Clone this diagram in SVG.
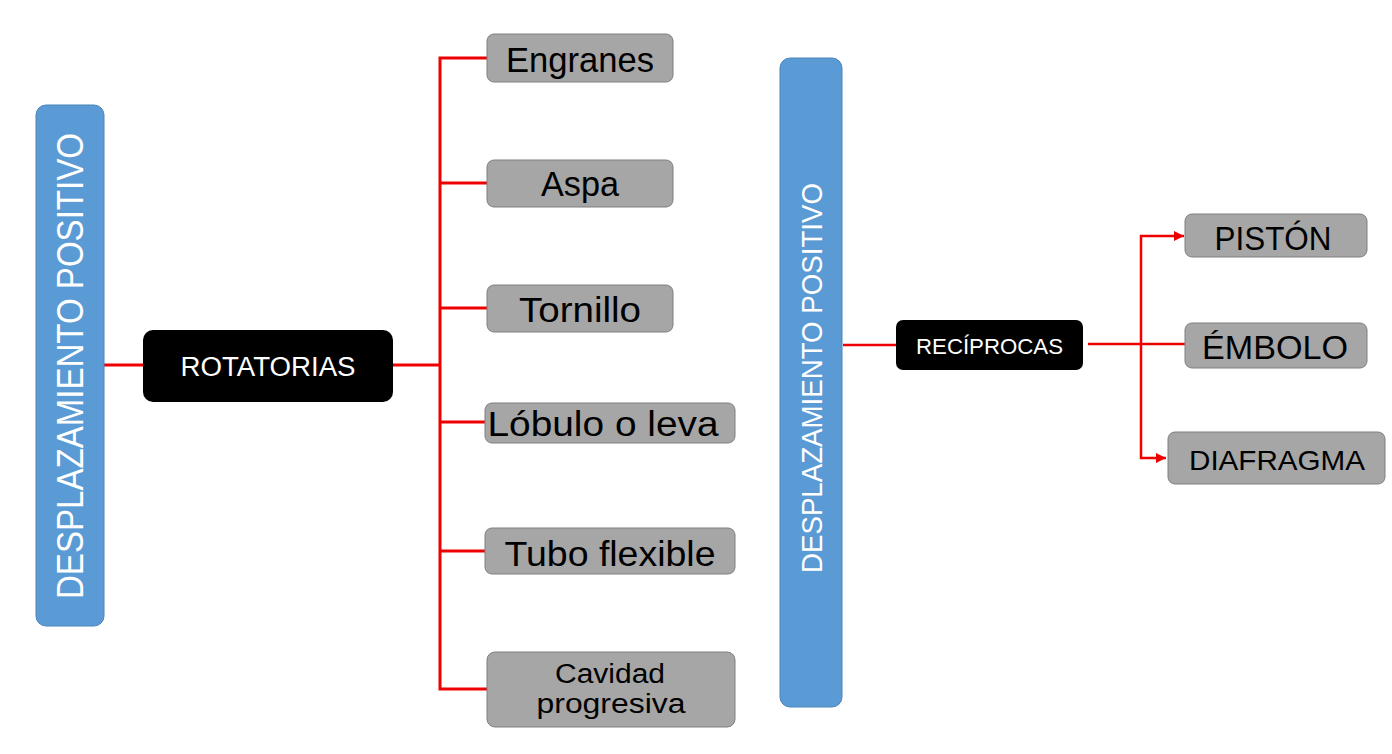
<svg xmlns="http://www.w3.org/2000/svg" width="1392" height="754" viewBox="0 0 1392 754">
<defs>
<style>
.blue{fill:#5b9bd5;stroke:#4a84ba;stroke-width:1}
.black{fill:#000}
.gray{fill:#a6a6a6;stroke:#7f7f7f;stroke-width:1}
text{font-family:"Liberation Sans",Arial,sans-serif}
.wt{fill:#fff;text-anchor:middle}
.bt{fill:#000;text-anchor:middle}
.c1{fill:none;stroke:#ee0000;stroke-width:3}
.c2{fill:none;stroke:#ee0000;stroke-width:2.5}
</style>
<marker id="arr" viewBox="0 0 10 10" refX="10" refY="5" markerWidth="4" markerHeight="4" orient="auto" markerUnits="strokeWidth">
<path d="M0,0 L10,5 L0,10 Z" fill="#ee0000"/>
</marker>
</defs>
<rect width="1392" height="754" fill="#fff"/>
<g id="connectors">
<line class="c1" x1="104" y1="365" x2="143" y2="365"/>
<line class="c1" x1="393" y1="365" x2="441" y2="365"/>
<polyline class="c1" points="487,58 440,58 440,689 487,689"/>
<line class="c1" x1="440" y1="183" x2="487" y2="183"/>
<line class="c1" x1="440" y1="308" x2="487" y2="308"/>
<line class="c1" x1="440" y1="422" x2="485" y2="422"/>
<line class="c1" x1="440" y1="551" x2="485" y2="551"/>
<line class="c2" x1="843" y1="345" x2="896" y2="345"/>
<line class="c2" x1="1088" y1="344" x2="1185" y2="344"/>
<polyline class="c2" points="1141,344 1141,236 1184,236" marker-end="url(#arr)"/>
<polyline class="c2" points="1141,344 1141,458 1166,458" marker-end="url(#arr)"/>
</g>
<g id="dp1">
<rect class="blue" x="36" y="105" width="68" height="521" rx="10"/>
<text class="wt" transform="translate(83,366) rotate(-90)" font-size="36" textLength="466" lengthAdjust="spacingAndGlyphs">DESPLAZAMIENTO POSITIVO</text>
</g>
<g id="rotatorias">
<rect class="black" x="143" y="330" width="250" height="72" rx="10"/>
<text class="wt" x="268" y="376" font-size="27" textLength="175" lengthAdjust="spacingAndGlyphs">ROTATORIAS</text>
</g>
<g id="engranes">
<rect class="gray" x="487" y="34" width="186" height="48" rx="7"/>
<text class="bt" x="580" y="72" font-size="35" textLength="148" lengthAdjust="spacingAndGlyphs">Engranes</text>
</g>
<g id="aspa">
<rect class="gray" x="487" y="160" width="186" height="47" rx="7"/>
<text class="bt" x="580" y="196" font-size="35" textLength="78" lengthAdjust="spacingAndGlyphs">Aspa</text>
</g>
<g id="tornillo">
<rect class="gray" x="487" y="285" width="186" height="47" rx="7"/>
<text class="bt" x="580" y="322" font-size="35" textLength="122" lengthAdjust="spacingAndGlyphs">Tornillo</text>
</g>
<g id="lobulo">
<rect class="gray" x="485" y="403" width="250" height="40" rx="7"/>
<text class="bt" x="603" y="436" font-size="35" textLength="231" lengthAdjust="spacingAndGlyphs">Lóbulo o leva</text>
</g>
<g id="tubo">
<rect class="gray" x="485" y="528" width="250" height="46" rx="7"/>
<text class="bt" x="610" y="566" font-size="35" textLength="211" lengthAdjust="spacingAndGlyphs">Tubo flexible</text>
</g>
<g id="cavidad">
<rect class="gray" x="487" y="652" width="248" height="75" rx="8"/>
<text class="bt" x="610" y="683" font-size="27" textLength="110" lengthAdjust="spacingAndGlyphs">Cavidad</text>
<text class="bt" x="611" y="713" font-size="27" textLength="149" lengthAdjust="spacingAndGlyphs">progresiva</text>
</g>
<g id="dp2">
<rect class="blue" x="780" y="58" width="62" height="649" rx="10"/>
<text class="wt" transform="translate(822,378) rotate(-90)" font-size="30" textLength="390" lengthAdjust="spacingAndGlyphs">DESPLAZAMIENTO POSITIVO</text>
</g>
<g id="reciprocas">
<rect class="black" x="896" y="320" width="187" height="50" rx="7"/>
<text class="wt" x="989.5" y="354" font-size="22" textLength="147" lengthAdjust="spacingAndGlyphs">RECÍPROCAS</text>
</g>
<g id="piston">
<rect class="gray" x="1185" y="214" width="182" height="43" rx="7"/>
<text class="bt" x="1273" y="250" font-size="33" textLength="117" lengthAdjust="spacingAndGlyphs">PISTÓN</text>
</g>
<g id="embolo">
<rect class="gray" x="1185" y="323" width="182" height="45" rx="7"/>
<text class="bt" x="1275" y="359" font-size="33" textLength="146" lengthAdjust="spacingAndGlyphs">ÉMBOLO</text>
</g>
<g id="diafragma">
<rect class="gray" x="1168" y="432" width="217" height="52" rx="7"/>
<text class="bt" x="1277" y="470" font-size="28" textLength="176" lengthAdjust="spacingAndGlyphs">DIAFRAGMA</text>
</g>
</svg>
